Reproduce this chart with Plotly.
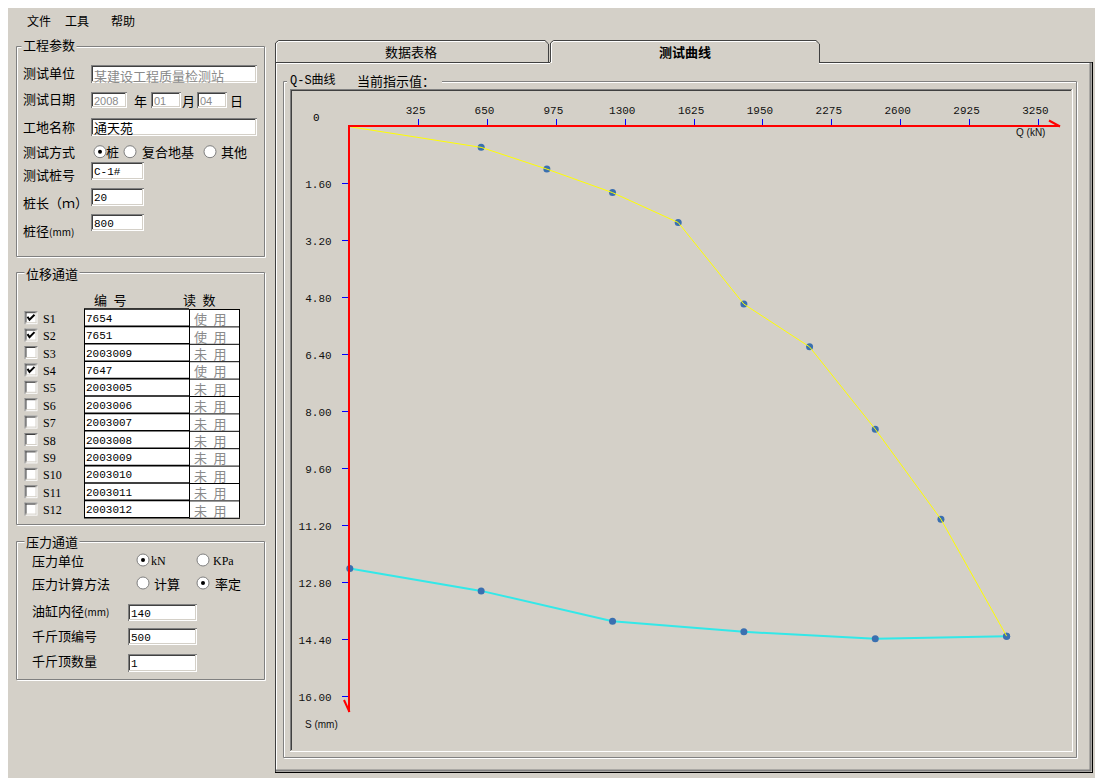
import plotly.graph_objects as go

# Q-s test data: load (kN) and settlement (mm)
LOAD_KN = [0, 620, 930, 1240, 1550, 1860, 2170, 2480, 2790, 3100]
SETTLE_MM = [0.0, 0.58, 1.19, 1.85, 2.69, 4.98, 6.18, 8.49, 11.02, 14.30]
UNLOAD_KN = [3100, 2480, 1860, 1240, 620, 0]
REBOUND_MM = [14.30, 14.37, 14.18, 13.88, 13.03, 12.40]

Q_TICKS = [325, 650, 975, 1300, 1625, 1950, 2275, 2600, 2925, 3250]
S_TICKS = [1.6, 3.2, 4.8, 6.4, 8.0, 9.6, 11.2, 12.8, 14.4, 16.0]

# form contents
MENU = ["文件", "工具", "帮助"]
CHANNELS = ["S%d" % i for i in range(1, 13)]
CODES = ["7654", "7651", "2003009", "7647", "2003005", "2003006",
         "2003007", "2003008", "2003009", "2003010", "2003011", "2003012"]
USED = [True, True, False, True] + [False] * 8

W, H = 1103, 778
OFF = 8  # page body margin
BG = "#D4D0C8"
DARK = "#404040"
SHADE = "#808080"
GRAYTXT = "#8A8A8A"
CJK = "Noto Sans CJK SC"
MONO = "Liberation Mono"
SERIF = "Liberation Serif"
SANS = "Liberation Sans"
MIX = "Liberation Mono, Noto Sans CJK SC"

shapes, notes = [], []


def X(p):
    return (p - OFF) / W


def Y(p):
    return 1 - (p - OFF) / H


def seg(x0, y0, x1, y1, color, w=1):
    shapes.append(dict(type="line", xref="paper", yref="paper",
                       x0=X(x0), y0=Y(y0), x1=X(x1), y1=Y(y1),
                       line=dict(color=color, width=w)))


def rect(x0, y0, x1, y1, fill=None, color=None, w=1):
    shapes.append(dict(type="rect", xref="paper", yref="paper",
                       x0=X(x0), y0=Y(y0), x1=X(x1), y1=Y(y1),
                       fillcolor=fill or "rgba(0,0,0,0)",
                       line=dict(color=color or "rgba(0,0,0,0)", width=w if color else 0)))


def poly(pts, color, w=1):
    path = "M" + " L".join("%f,%f" % (X(a), Y(b)) for a, b in pts)
    shapes.append(dict(type="path", xref="paper", yref="paper", path=path,
                       line=dict(color=color, width=w)))


def text(x, y, s, size=13, color="black", family=CJK, anchor="left", bg=None, pad=0):
    notes.append(dict(xref="paper", yref="paper", x=X(x), y=Y(y), text=s,
                      showarrow=False, xanchor=anchor, yanchor="middle",
                      font=dict(family=family, size=size, color=color),
                      bgcolor=bg, borderpad=pad))


def field(x0, y0, x1, y1, s="", color="black", family=MONO, size=11):
    rect(x0, y0, x1, y1, fill="white")
    seg(x0, y0 + .5, x1, y0 + .5, SHADE)
    seg(x0 + .5, y0, x0 + .5, y1, SHADE)
    seg(x0 + 1, y0 + 1.5, x1 - 1, y0 + 1.5, DARK)
    seg(x0 + 1.5, y0 + 1, x0 + 1.5, y1 - 1, DARK)
    seg(x0 + 1, y1 - 1.5, x1 - 1, y1 - 1.5, BG)
    seg(x1 - 1.5, y0 + 1, x1 - 1.5, y1 - 1, BG)
    if s:
        text(x0 + 2, (y0 + y1) / 2 + 1, s, size, color, family)


def group(x0, y0, x1, y1, title, tx, ty):
    rect(x0 + 1.5, y0 + 1.5, x1 + 1.5, y1 + 1.5, color="white")
    rect(x0 + .5, y0 + .5, x1 + .5, y1 + .5, color=SHADE)
    if title:
        text(tx, ty, title, 13, bg=BG, pad=1)


def checkbox(cx, cy, on):
    field(cx - 6.5, cy - 6.5, cx + 6.5, cy + 6.5)
    if on:
        poly([(cx - 3.5, cy - 1), (cx - 1.5, cy + 2), (cx + 3.5, cy - 3)], "black", 2)


def radio(cx, cy, on):
    shapes.append(dict(type="circle", xref="paper", yref="paper",
                       x0=X(cx - 6), y0=Y(cy + 6), x1=X(cx + 6), y1=Y(cy - 6),
                       fillcolor="white", line=dict(color=SHADE, width=1)))
    if on:
        shapes.append(dict(type="circle", xref="paper", yref="paper",
                           x0=X(cx - 2), y0=Y(cy + 2), x1=X(cx + 2), y1=Y(cy - 2),
                           fillcolor="black", line=dict(width=0)))


# menu
for s, mx in zip(MENU, [26, 64, 110]):
    text(mx, 20, s, 12)

# ---- group 1: project parameters
group(16, 46, 264, 256, "工程参数", 21, 45)
for s, ly in [("测试单位", 72.7), ("测试日期", 99), ("工地名称", 126.7), ("测试方式", 151.7),
              ("测试桩号", 175), ("桩长（ｍ）", 202.3),
              ("桩径<span style='font-size:10px'>(mm)</span>", 230)]:
    text(22, ly, s, 13)
field(91, 65, 257, 83, "某建设工程质量检测站", GRAYTXT, CJK, 13)
field(91, 92, 127, 108, "2008", GRAYTXT, SANS, 11)
text(140, 100, "年", anchor="center")
field(151, 92, 181, 108, "01", GRAYTXT, SANS, 11)
text(188, 100, "月", anchor="center")
field(197, 92, 227, 108, "04", GRAYTXT, SANS, 11)
text(236, 100, "日", anchor="center")
field(91, 118, 257, 136, "通天苑", "black", CJK, 13)
radio(100, 151.7, True)
text(112, 151.7, "桩", anchor="center")
radio(130, 151.7, False)
text(141, 151.7, "复合地基")
radio(210, 151.7, False)
text(220, 151.7, "其他")
field(91, 162, 144, 180, "C-1#")
field(91, 188, 144, 206, "20")
field(91, 214, 144, 231, "800")

# ---- group 2: displacement channels
group(16, 272, 264, 524, "位移通道", 24, 273)
text(110, 299, "编\u2002号", anchor="center")
text(199, 299, "读\u2002数", anchor="center")
TOP, RH, TL, TM, TR = 309, 17.4, 84, 189, 240
rect(TL, TOP, TR, TOP + 12 * RH, fill="white")
for i in range(13):
    yy = TOP + i * RH
    seg(TL, yy, TM, yy, "black", 1.6)
    seg(TM, yy + .5, TR, yy + .5, "black", 1)
for xx in (TL + .5, TM + .5, TR - .5):
    seg(xx, TOP, xx, TOP + 12 * RH, "black", 1)
for i, (ch, code, used) in enumerate(zip(CHANNELS, CODES, USED)):
    cy = TOP + (i + .5) * RH
    checkbox(31, cy, used)
    text(42, cy + 1, ch, 12, family=SERIF)
    text(85, cy + 1, code, 11, family=MONO)
    text(193, cy + 1, ("使" if used else "未") + "\u2002用", 13, GRAYTXT)

# ---- group 3: pressure channel
group(16, 541, 264, 679, "压力通道", 24, 541)
text(31, 560, "压力单位")
radio(143, 560, True)
text(150, 561, "kN", 12, family=SERIF)
radio(203, 560, False)
text(212, 561, "KPa", 12, family=SERIF)
text(31, 583, "压力计算方法")
radio(143, 583, False)
text(153, 583, "计算")
radio(203, 583, True)
text(214, 583, "率定")
text(31, 610, "油缸内径<span style='font-size:10px'>(mm)</span>")
field(128, 604, 197, 621, "140")
text(31, 635, "千斤顶编号")
field(128, 628, 197, 645, "500")
text(31, 660, "千斤顶数量")
field(128, 654, 197, 672, "1")

# ---- tab control
poly([(275.5, 62), (275.5, 43), (278.5, 40.5), (545, 40.5), (548.5, 44), (548.5, 62)], DARK)
poly([(276.5, 62), (276.5, 43.5), (279, 41.5), (545, 41.5)], "white")
poly([(550.5, 62), (550.5, 43), (553.5, 40.5), (816, 40.5), (819.5, 44), (819.5, 62)], DARK)
poly([(551.5, 63), (551.5, 43.5), (554, 41.5), (816, 41.5)], "white")
seg(275, 62.5, 550, 62.5, DARK)
seg(276, 63.5, 550, 63.5, "white")
seg(819, 62.5, 1093, 62.5, DARK)
seg(819, 63.5, 1091, 63.5, "white")
seg(275.5, 62, 275.5, 773, DARK)
seg(276.5, 63, 276.5, 771, "white")
seg(1092.5, 62, 1092.5, 773, "black")
seg(1090.5, 63, 1090.5, 771, SHADE, 2)
seg(275, 772.5, 1093, 772.5, "black")
seg(276, 770.5, 1091, 770.5, SHADE, 2)
text(411, 51, "数据表格", 13, anchor="center")
text(685, 51, "<b>测试曲线</b>", 13, anchor="center")

# ---- chart group box and sunken frame
group(283, 81, 1076, 757, None, 0, 0)
rect(287, 77, 442, 86, fill=BG)
text(289, 81, "Q-S曲线", 12, family=MIX)
text(356, 81, "当前指示值：", 13)
seg(290, 89.5, 1072, 89.5, SHADE)
seg(290.5, 89, 290.5, 751, SHADE)
seg(291, 90.5, 1071, 90.5, DARK)
seg(291.5, 90, 291.5, 750, DARK)
seg(290, 751.5, 1073, 751.5, "white")
seg(1072.5, 89, 1072.5, 752, "white")

# axis arrowheads and captions
seg(1049, 120.5, 1060, 126.5, "red", 2)
seg(344, 700, 349.5, 712, "red", 2)
text(316, 118, "0", 11, family=MONO, anchor="center")
text(1015, 132.7, "Q (kN)", 10, "#111111", SANS)
text(304, 724, "S (mm)", 10, "#111111", SANS)

# pixel scale of the plot
X0, XEND = 349.8, 1060
Y0, YEND = 126.7, 712
KN_PX = 325 / 68.86
MM_PX = 1.6 / 57.0

fig = go.Figure()
fig.add_trace(go.Scatter(
    x=UNLOAD_KN, y=REBOUND_MM, mode="lines",
    line=dict(color="#33E8E8", width=2),
    cliponaxis=False, showlegend=False
))
fig.add_trace(go.Scatter(
    x=LOAD_KN[1:], y=SETTLE_MM[1:], mode="markers",
    marker=dict(size=7, color="#3A6FB0"),
    cliponaxis=False, showlegend=False
))
fig.add_trace(go.Scatter(
    x=UNLOAD_KN, y=REBOUND_MM, mode="markers",
    marker=dict(size=7, color="#3A6FB0"),
    cliponaxis=False, showlegend=False
))
fig.add_trace(go.Scatter(
    x=LOAD_KN, y=SETTLE_MM, mode="lines",
    line=dict(color="#FFFF00", width=1),
    cliponaxis=False, showlegend=False
))

tickfont = dict(family=MONO, size=11, color="#111111")
fig.update_layout(
    width=W, height=H,
    margin=dict(l=0, r=0, t=0, b=0, pad=0),
    paper_bgcolor=BG, plot_bgcolor="rgba(0,0,0,0)",
    showlegend=False,
    xaxis=dict(domain=[X(X0), X(XEND)], range=[0, (XEND - X0) * KN_PX], side="top",
               showline=True, linecolor="red", linewidth=2,
               ticks="outside", ticklen=6, tickwidth=1, tickcolor="blue",
               tickvals=Q_TICKS, ticktext=[str(v) for v in Q_TICKS],
               ticklabelshift=-3, tickfont=tickfont,
               showgrid=False, zeroline=False, fixedrange=True),
    yaxis=dict(domain=[Y(YEND), Y(Y0)], range=[(YEND - Y0) * MM_PX, 0],
               showline=True, linecolor="red", linewidth=2,
               ticks="outside", ticklen=6, tickwidth=1, tickcolor="blue",
               tickvals=S_TICKS, ticktext=["%.2f" % v for v in S_TICKS],
               ticklabelstandoff=8, tickfont=tickfont,
               showgrid=False, zeroline=False, fixedrange=True),
    shapes=shapes,
    annotations=notes,
)

fig.write_html("out.html", config={"displayModeBar": False})
